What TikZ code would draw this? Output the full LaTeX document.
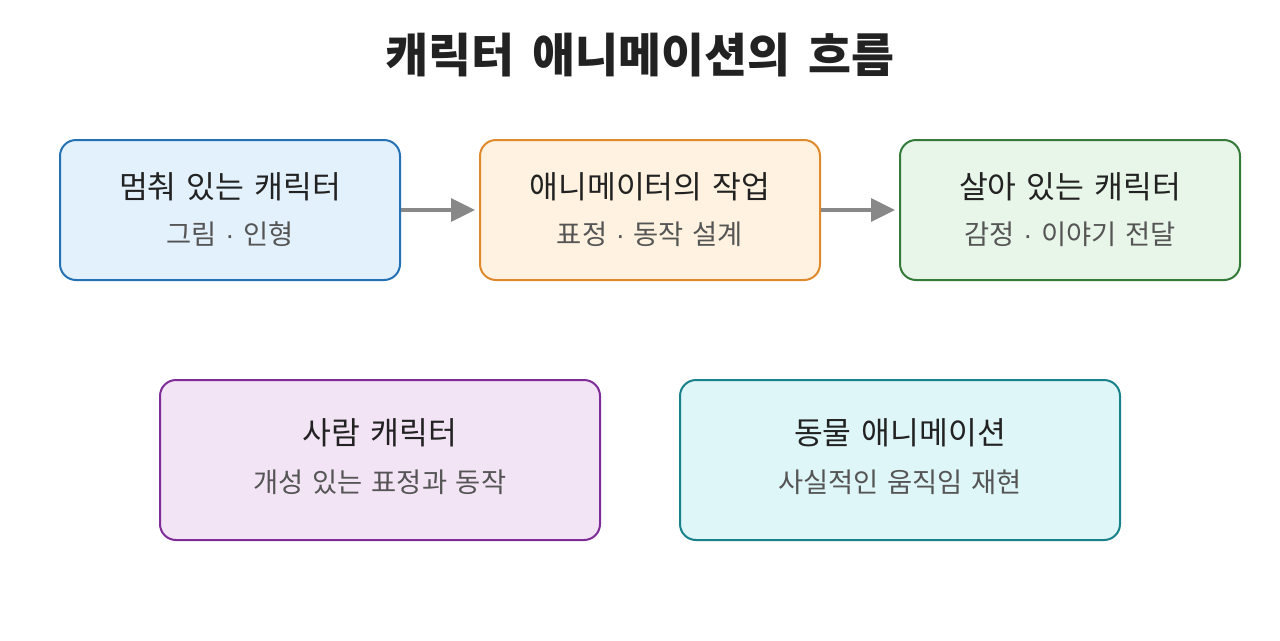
\documentclass[tikz,border=0pt]{standalone}
\usepackage{fontspec}
\setmainfont{Noto Sans CJK KR}
\newfontfamily\dotfont{Liberation Sans}
\newcommand{\mdot}{{\dotfont ·}}
\newcommand{\wideA}{\spaceskip=0.32em\relax}
\newcommand{\wideB}{\spaceskip=0.4em\relax}
\usetikzlibrary{arrows.meta}
\definecolor{b1f}{HTML}{E3F1FC}\definecolor{b1d}{HTML}{2472B3}
\definecolor{b2f}{HTML}{FFF2E0}\definecolor{b2d}{HTML}{DE8A2C}
\definecolor{b3f}{HTML}{E8F5E9}\definecolor{b3d}{HTML}{347A38}
\definecolor{b4f}{HTML}{F3E4F5}\definecolor{b4d}{HTML}{7D2C98}
\definecolor{b5f}{HTML}{DFF6F8}\definecolor{b5d}{HTML}{17828A}
\definecolor{maintxt}{HTML}{222222}
\definecolor{subtxt}{HTML}{555555}
\definecolor{arr}{HTML}{888888}
\tikzset{
  box/.style={draw, line width=1.5pt, rounded corners=12pt, inner sep=0pt},
  topbox/.style={box, minimum width=255pt, minimum height=105pt},
  botbox/.style={box, minimum width=330pt, minimum height=120pt},
  maintext/.style={font=\fontsize{23.5pt}{28pt}\selectfont\wideA, text=maintxt, inner sep=0pt},
  subtext/.style={font=\fontsize{20.5pt}{24pt}\selectfont\wideA, text=subtxt, inner sep=0pt},
  titletext/.style={font=\bfseries\fontsize{35pt}{40pt}\selectfont\wideB, text=maintxt, inner sep=0pt},
  flow/.style={draw=arr, line width=3pt, -{Triangle[length=18pt,width=17pt]}, shorten >=3pt},
}
\begin{document}
\begin{tikzpicture}[x=0.75pt,y=-0.75pt]
\useasboundingbox[fill=white] (0,0) rectangle (1280,640);
\node[titletext] (title) at (640,55) {캐릭터 애니메이션의 흐름};

\node[topbox, draw=b1d, fill=b1f] (b1) at (230,210) {};
\node[topbox, draw=b2d, fill=b2f] (b2) at (650,210) {};
\node[topbox, draw=b3d, fill=b3f] (b3) at (1070,210) {};
\node[botbox, draw=b4d, fill=b4f] (b4) at (380,460) {};
\node[botbox, draw=b5d, fill=b5f] (b5) at (900,460) {};

\node[maintext] (b1t) at (230,187) {멈춰 있는 캐릭터};
\node[subtext] (b1s) at (230,234) {그림 \mdot{} 인형};
\node[maintext] (b2t) at (650,187) {애니메이터의 작업};
\node[subtext] (b2s) at (650,234) {표정 \mdot{} 동작 설계};
\node[maintext] (b3t) at (1070,187) {살아 있는 캐릭터};
\node[subtext] (b3s) at (1070,234) {감정 \mdot{} 이야기 전달};
\node[maintext] (b4t) at (380,433) {사람 캐릭터};
\node[subtext] (b4s) at (380,482) {개성 있는 표정과 동작};
\node[maintext] (b5t) at (900,433) {동물 애니메이션};
\node[subtext] (b5s) at (900,482) {사실적인 움직임 재현};

\draw[flow] (b1.east) -- (b2.west);
\draw[flow] (b2.east) -- (b3.west);
\end{tikzpicture}
\end{document}
